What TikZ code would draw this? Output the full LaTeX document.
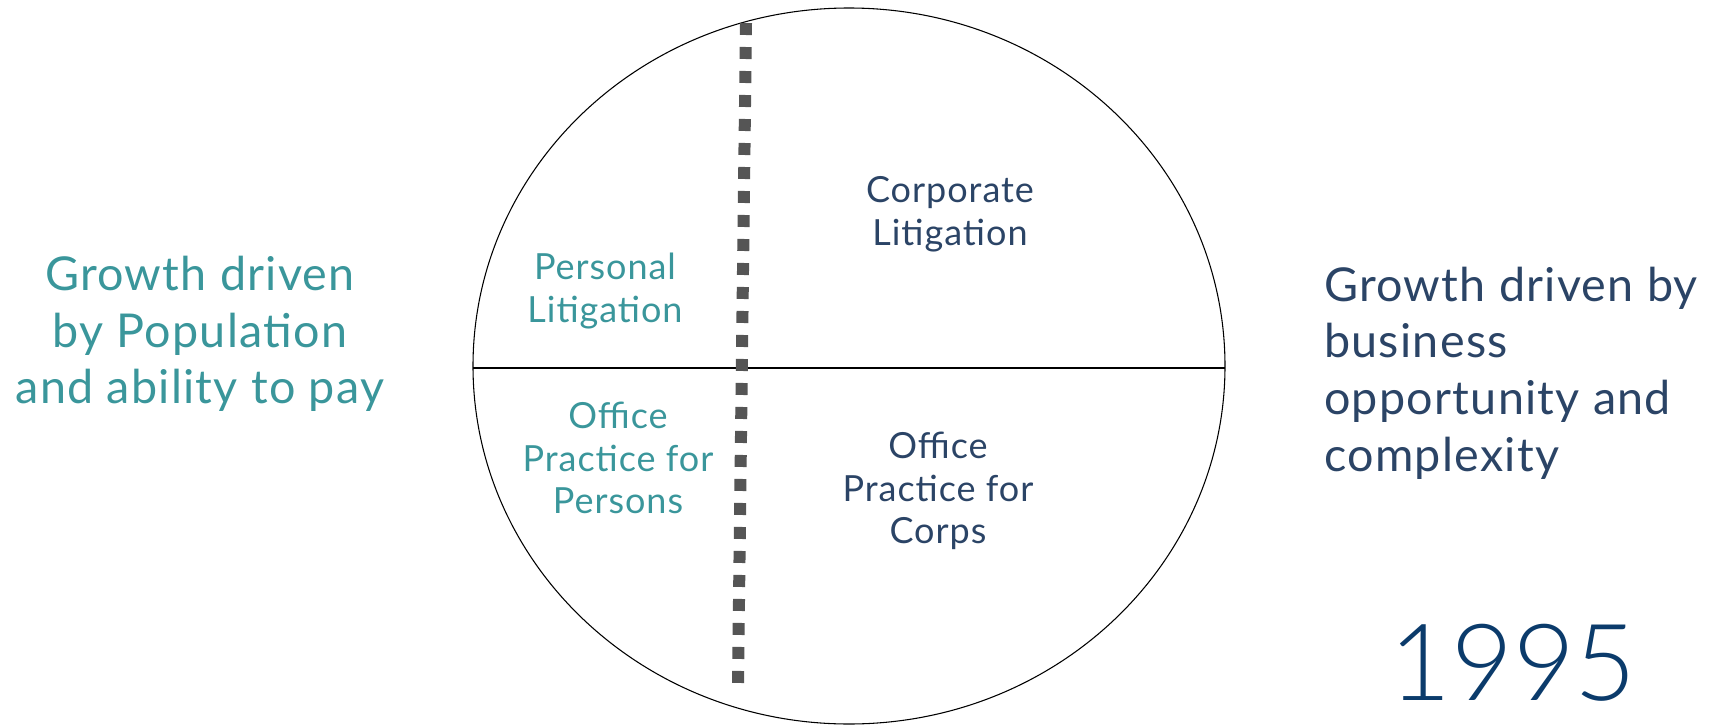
\documentclass[tikz,border=0pt]{standalone}
\usepackage{fontspec}
\setmainfont{Lato}[LetterSpace=2.7]
\newfontfamily\yearfont{Lato Light}
\usetikzlibrary{positioning}
\definecolor{tealtxt}{RGB}{58,150,155}
\definecolor{navytxt}{RGB}{43,68,102}
\definecolor{yeartxt}{RGB}{11,59,107}
\definecolor{dotgray}{RGB}{85,85,85}
\tikzset{
  sidetext/.style={align=center,inner sep=0pt,font=\fontsize{35}{42.5}\selectfont},
  quadtext/.style={align=center,inner sep=0pt,font=\fontsize{27}{32}\selectfont},
}
\begin{document}
\begin{tikzpicture}[x=0.75pt,y=-0.75pt]
\useasboundingbox (0,0) rectangle (1718,725);
% circle split into four practice areas
\draw[thick] (849,366) ellipse [x radius=376, y radius=358];
\coordinate (midL) at (473,368);
\coordinate (midR) at (1225,368);
\draw[thick] (midL) -- (midR);
\coordinate (divtop) at (746,23);
\coordinate (divbot) at (738,683);
\draw[dotgray,line width=9pt,dash pattern=on 9pt off 9pt] (divtop) -- (divbot);
% quadrant labels
\node[quadtext,text=tealtxt] (perslit) at (605,291) {Personal\\Litigation};
\node[quadtext,text=navytxt] (corplit) at (950,214) {Corporate\\Litigation};
\node[quadtext,text=tealtxt] (persoff) at (618,458) {Office\\Practice for\\Persons};
\node[quadtext,text=navytxt] (corpoff) at (938,491) {Office\\Practice for\\Corps};
% drivers on either side
\node[sidetext,text=tealtxt] (leftdrv) at (200,334) {Growth driven\\by Population\\and ability to pay};
\node[sidetext,text=navytxt,align=left,anchor=west] (rightdrv) at (1324,373) {Growth driven by\\business\\opportunity and\\complexity};
\node[inner sep=0pt,text=yeartxt,font=\yearfont\fontsize{80}{80}\selectfont] (year) at (1513,663) {1995};
\end{tikzpicture}
\end{document}
